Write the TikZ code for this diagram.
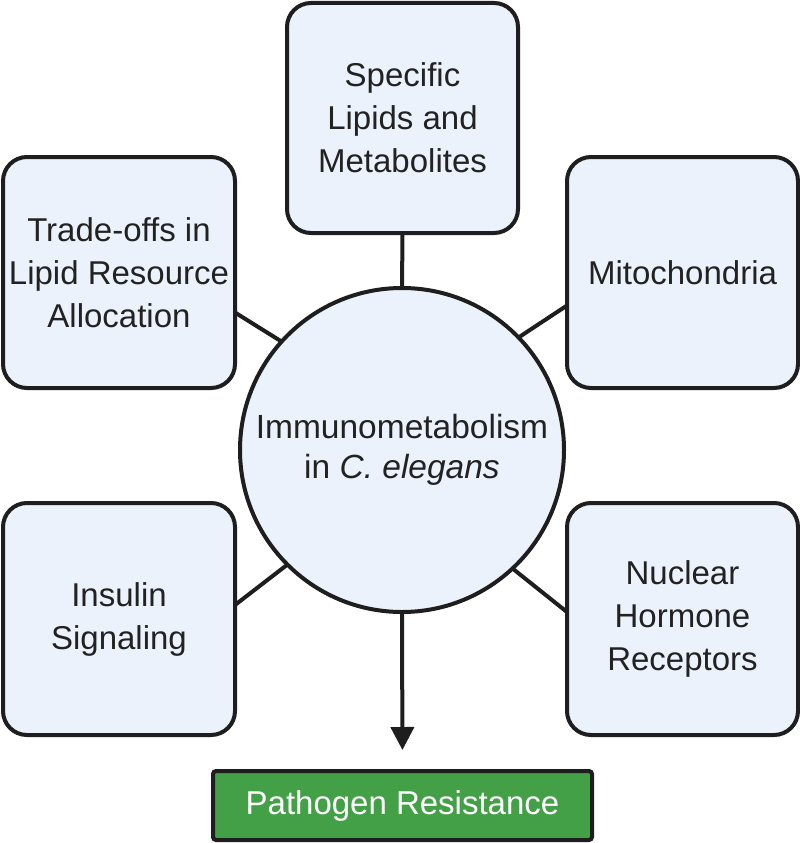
\documentclass[tikz,border=0pt]{standalone}
\usepackage{fontspec}
\setmainfont{Liberation Sans}
\usetikzlibrary{arrows.meta,calc}
\definecolor{boxfill}{HTML}{EBF2FC}
\definecolor{edge}{HTML}{1E1E1E}
\definecolor{txt}{HTML}{222222}
\definecolor{grn}{HTML}{43A047}
\tikzset{
  topic/.style={draw=edge, line width=4pt, fill=boxfill, rounded corners=24pt,
    inner sep=0pt, outer sep=0pt, align=center, text=txt,
    font=\fontsize{33}{43}\selectfont},
  hub/.style={circle, draw=edge, line width=4pt, fill=boxfill, inner sep=0pt,
    outer sep=0pt, minimum size=324pt, align=center, text=txt,
    font=\fontsize{33.5}{40}\selectfont},
  result/.style={draw=edge, line width=4pt, fill=grn, rounded corners=3pt,
    inner sep=0pt, outer sep=0pt, text=white, minimum width=379pt,
    minimum height=69pt, font=\fontsize{33}{40}\selectfont},
  link/.style={draw=edge, line width=4pt}
}
\begin{document}
\begin{tikzpicture}[x=1pt,y=-1pt]
\useasboundingbox (0,0) rectangle (800,843);
\node[hub] (c) at (402,450) {Immunometabolism\\in \textit{C. elegans}};
\node[topic, minimum width=231pt, minimum height=230pt] (top) at (402.5,118) {Specific\\Lipids and\\Metabolites};
\node[topic, minimum width=232pt, minimum height=231pt] (lt) at (119,272.5) {Trade-offs in\\Lipid Resource\\Allocation};
\node[topic, minimum width=231pt, minimum height=231pt] (rt) at (682.5,272.5) {Mitochondria};
\node[topic, minimum width=232pt, minimum height=232pt] (lb) at (119,619) {Insulin\\Signaling};
\node[topic, minimum width=231pt, minimum height=232pt] (rb) at (682.5,619) {Nuclear\\Hormone\\Receptors};
\node[result] (g) at (402.5,805.5) {Pathogen Resistance};
\draw[link] (top.south) -- (c.north);
\draw[link] ([yshift=-40pt]lt.east) -- (c.138);
\draw[link] ([yshift=-33pt]rt.west) -- (c.44);
\draw[link] ([yshift=14pt]lb.east) -- (c.225);
\draw[link] ([yshift=7pt]rb.west) -- (c.-47);
\draw[link, -{Triangle[width=23pt,length=23pt]}, shorten >=21pt] (c.south) -- (g.north);
\end{tikzpicture}
\end{document}
